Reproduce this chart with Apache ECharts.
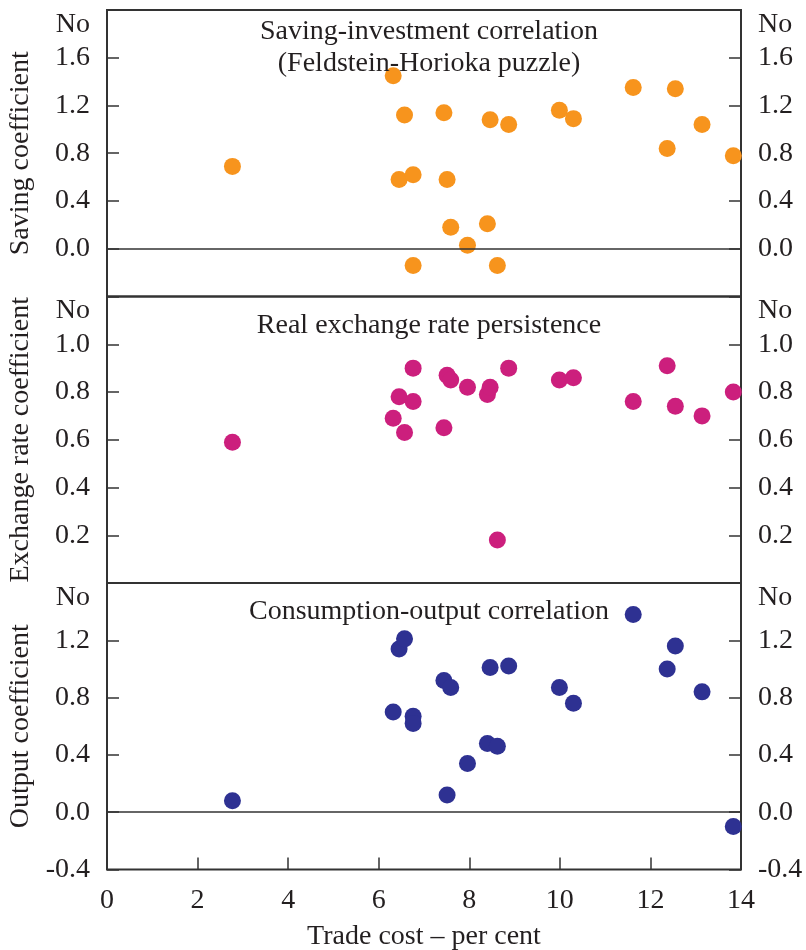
<!DOCTYPE html>
<html>
<head>
<meta charset="utf-8">
<script src="https://cdn.jsdelivr.net/npm/echarts@6/dist/echarts.min.js"></script>
<style>
  html, body { margin: 0; padding: 0; background: #fff; }
  #main { width: 806px; height: 950px; }
</style>
</head>
<body>
<div id="main"></div>
<script>
// trade cost (per cent) for each country, shared by the three panels
var tradeCost = [2.77, 6.32, 6.45, 6.57, 6.76, 6.76, 7.44, 7.51, 7.59, 7.96, 8.40,
                 8.46, 8.62, 8.87, 9.99, 10.30, 11.62, 12.37, 12.55, 13.14, 13.83];

// saving-investment coefficient
var savingCoef = [0.69, 1.45, 0.58, 1.12, 0.62, -0.14, 1.14, 0.58, 0.18, 0.03, 0.21,
                  1.08, -0.14, 1.04, 1.16, 1.09, 1.35, 0.84, 1.34, 1.04, 0.78];
// real exchange rate persistence
var exchangeCoef = [0.59, 0.69, 0.78, 0.63, 0.90, 0.76, 0.65, 0.87, 0.85, 0.82, 0.79,
                    0.82, 0.18, 0.90, 0.85, 0.86, 0.76, 0.91, 0.74, 0.70, 0.80];
// consumption-output coefficient
var outputCoef = [0.08, 0.70, 1.14, 1.21, 0.67, 0.62, 0.92, 0.12, 0.87, 0.34, 0.48,
                  1.01, 0.46, 1.02, 0.87, 0.76, 1.38, 1.00, 1.16, 0.84, -0.10];

// axis ranges: [min, max, interval]
var xRange = [0, 14, 2];
var savingRange = [-0.4, 2.0, 0.4];
var exchangeRange = [0, 1.2, 0.2];
var outputRange = [-0.4, 1.6, 0.4];

var panelTitles = ['Saving-investment correlation\n(Feldstein-Horioka puzzle)',
                   'Real exchange rate persistence',
                   'Consumption-output correlation'];
var yNames = ['Saving coefficient', 'Exchange rate coefficient', 'Output coefficient'];
var xName = 'Trade cost \u2013 per cent';
var topLabel = 'No';

var FONT = '"Liberation Serif", "DejaVu Serif", serif';
var FS = 28;
var INK = '#231f20';
var LINE = '#333333';
var colors = ['#f7941d', '#cc1f7d', '#2e3192'];

var chart = echarts.init(document.getElementById('main'), null, { renderer: 'canvas' });

var gridTops = [10, 296.5, 583];
var ranges = [savingRange, exchangeRange, outputRange];
var hideMin = [true, true, false];

function pairs(ys) {
  return tradeCost.map(function (x, i) { return [x, ys[i]]; });
}

function yLabelFormatter(r, skipMin) {
  return function (v) {
    if (Math.abs(v - r[1]) < 1e-9) return '{no|' + topLabel + '}';
    if (skipMin && Math.abs(v - r[0]) < 1e-9) return '';
    return v.toFixed(1);
  };
}

var grids = [], xAxes = [], yAxes = [], series = [], titles = [];
[savingCoef, exchangeCoef, outputCoef].forEach(function (ys, k) {
  grids.push({
    left: 107, width: 634, top: gridTops[k], height: 286.5,
    outerBoundsMode: 'none', containLabel: false,
    show: true, borderColor: LINE, borderWidth: 2
  });
  var last = k === 2;
  xAxes.push({
    type: 'value', gridIndex: k, min: xRange[0], max: xRange[1], interval: xRange[2],
    axisLine: { show: false, onZero: false },
    axisTick: { show: last, inside: true, length: 12, lineStyle: { color: LINE, width: 1.5 } },
    axisLabel: { show: last, margin: 17, fontFamily: FONT, fontSize: FS, color: INK },
    splitLine: { show: false },
    name: last ? xName : '', nameLocation: 'middle', nameGap: 53,
    nameTextStyle: { fontFamily: FONT, fontSize: FS, color: INK }
  });
  var r = ranges[k];
  ['left', 'right'].forEach(function (side) {
    yAxes.push({
      type: 'value', gridIndex: k, position: side,
      min: r[0], max: r[1], interval: r[2],
      axisLine: { show: false, onZero: false },
      axisTick: { show: true, inside: true, length: 12, lineStyle: { color: LINE, width: 1.5 } },
      axisLabel: {
        margin: 17, fontFamily: FONT, fontSize: FS, color: INK,
        formatter: yLabelFormatter(r, hideMin[k]),
        rich: { no: { fontFamily: FONT, fontSize: FS, color: INK, padding: [29, 0, 0, 0] } }
      },
      splitLine: { show: false },
      name: side === 'left' ? yNames[k] : '', nameLocation: 'middle', nameGap: 72,
      nameTextStyle: { fontFamily: FONT, fontSize: FS, color: INK }
    });
  });
  if (k !== 1) {
    // zero line, kept under the dots
    series.push({
      type: 'line', xAxisIndex: k, yAxisIndex: k * 2, data: [], z: 1, silent: true,
      markLine: {
        silent: true, symbol: ['none', 'none'], label: { show: false },
        lineStyle: { color: LINE, width: 1.5, type: 'solid' },
        data: [{ yAxis: 0 }]
      }
    });
  }
  series.push({
    type: 'scatter', xAxisIndex: k, yAxisIndex: k * 2, z: 3,
    symbol: 'circle', symbolSize: 17,
    itemStyle: { color: colors[k], opacity: 1 },
    data: pairs(ys)
  });
  titles.push({
    text: panelTitles[k], left: 424, textAlign: 'center',
    top: [11, 305, 591][k],
    textStyle: { fontFamily: FONT, fontSize: FS, fontWeight: 'normal', color: INK, lineHeight: 32 }
  });
});

var option = {
  backgroundColor: '#ffffff',
  animation: false,
  title: titles,
  grid: grids,
  xAxis: xAxes,
  yAxis: yAxes,
  series: series
};
chart.setOption(option);
</script>
</body>
</html>
